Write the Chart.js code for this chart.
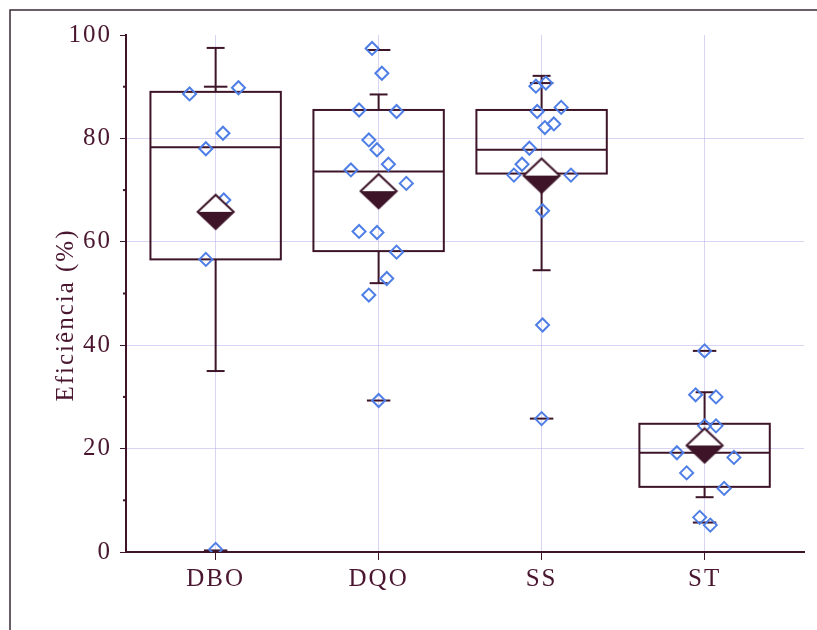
<!DOCTYPE html>
<html>
<head>
<meta charset="utf-8">
<script src="https://cdn.jsdelivr.net/npm/chart.js@4.4.1/dist/chart.umd.min.js"></script>
<style>
  html, body { margin: 0; padding: 0; background: #fff; }
  #wrap { width: 817px; height: 630px; }
</style>
</head>
<body>
<div id="wrap"><canvas id="boxChart" width="817" height="630"></canvas></div>
<script>
// categorias e estatisticas
var categories = ['DBO', 'DQO', 'SS', 'ST'];
var q1 = [56.6, 58.2, 73.2, 12.6];
var median = [78.3, 73.6, 77.8, 19.2];
var q3 = [89.0, 85.5, 85.5, 24.8];
var whiskerLow = [35.0, 52.0, 54.5, 10.6];
var whiskerHigh = [97.5, 88.5, 92.1, 30.9];
var extremeLow = [0.3, 29.3, 25.8, 5.7];
var extremeHigh = [90.0, 97.1, 90.7, 38.9];
var means = [65.8, 69.8, 72.8, 20.6];

// pontos observados (valor e deslocamento horizontal)
var dboValues = [88.6, 89.8, 81.0, 78.0, 68.1, 56.6, 0.5];
var dboJitter = [-0.16, 0.14, 0.045, -0.06, 0.05, -0.06, 0];
var dqoValues = [97.4, 92.6, 85.5, 85.2, 79.7, 77.8, 75.0, 73.9, 71.3, 62.0, 61.8, 58.0, 52.9, 49.7, 29.3];
var dqoJitter = [-0.04, 0.02, -0.12, 0.11, -0.06, -0.01, 0.06, -0.17, 0.17, -0.12, -0.01, 0.11, 0.05, -0.06, 0];
var ssValues = [90.1, 90.7, 85.2, 86.0, 82.1, 82.8, 78.1, 75.0, 72.9, 72.9, 66.0, 43.9, 25.8];
var ssJitter = [-0.035, 0.026, -0.027, 0.12, 0.02, 0.075, -0.075, -0.12, -0.17, 0.18, 0.006, 0.006, 0];
var stValues = [38.9, 30.4, 30.0, 24.4, 24.4, 19.2, 18.3, 15.3, 12.3, 6.7, 5.2];
var stJitter = [0, -0.055, 0.07, 0, 0.07, -0.17, 0.18, -0.11, 0.12, -0.03, 0.035];

var yTicks = [0, 20, 40, 60, 80, 100];

var darkColor = '#3d1428';
var textColor = '#4a1630';
var blueColor = '#4f7fe6';
var gridColor = 'rgba(185, 175, 235, 0.55)';
var serif = '"Liberation Serif", "DejaVu Serif", serif';

var allValues = [dboValues, dqoValues, ssValues, stValues];
var allJitter = [dboJitter, dqoJitter, ssJitter, stJitter];

var pointData = [];
allValues.forEach(function(vals, i) {
  vals.forEach(function(v, j) {
    pointData.push({ x: i + 1 + allJitter[i][j], y: v });
  });
});
var meanData = means.map(function(m, i) { return { x: i + 1, y: m }; });

// marcador da media: losango metade branco, metade escuro
function makeMeanMarker() {
  var c = document.createElement('canvas');
  c.width = 40; c.height = 38;
  var g = c.getContext('2d');
  var cx = 20, cy = 19, hw = 18, hh = 17;
  g.beginPath();
  g.moveTo(cx - hw, cy); g.lineTo(cx, cy - hh); g.lineTo(cx + hw, cy); g.closePath();
  g.fillStyle = '#fff'; g.fill();
  g.beginPath();
  g.moveTo(cx - hw, cy); g.lineTo(cx + hw, cy); g.lineTo(cx, cy + hh); g.closePath();
  g.fillStyle = darkColor; g.fill();
  g.beginPath();
  g.moveTo(cx - hw, cy); g.lineTo(cx, cy - hh); g.lineTo(cx + hw, cy); g.lineTo(cx, cy + hh); g.closePath();
  g.lineWidth = 2; g.strokeStyle = darkColor; g.lineJoin = 'miter'; g.stroke();
  return c;
}

var boxPlugin = {
  id: 'boxPlugin',
  beforeDraw: function(chart) {
    var ctx = chart.ctx;
    ctx.save();
    ctx.fillStyle = '#fff';
    ctx.fillRect(0, 0, chart.width, chart.height);
    ctx.strokeStyle = '#3a2a35';
    ctx.lineWidth = 1.5;
    ctx.beginPath();
    ctx.moveTo(10, chart.height); ctx.lineTo(10, 10); ctx.lineTo(chart.width, 10);
    ctx.stroke();
    ctx.restore();
    ctx.letterSpacing = '2px'; // texto espacado como no original
  },
  beforeDatasetsDraw: function(chart) {
    var ctx = chart.ctx;
    var xs = chart.scales.x, ys = chart.scales.y;
    ctx.save();
    ctx.strokeStyle = darkColor;
    ctx.lineWidth = 2;
    // marcas menores do eixo y
    for (var t = 10; t < 100; t += 20) {
      var ty = ys.getPixelForValue(t);
      ctx.beginPath();
      ctx.moveTo(xs.left - 3, ty); ctx.lineTo(xs.left, ty);
      ctx.stroke();
    }
    function hline(v, c, half) {
      var y = ys.getPixelForValue(v);
      ctx.beginPath();
      ctx.moveTo(xs.getPixelForValue(c - half), y);
      ctx.lineTo(xs.getPixelForValue(c + half), y);
      ctx.stroke();
    }
    for (var i = 0; i < categories.length; i++) {
      var c = i + 1;
      var xl = xs.getPixelForValue(c - 0.4), xr = xs.getPixelForValue(c + 0.4);
      var xc = xs.getPixelForValue(c);
      var y1 = ys.getPixelForValue(q1[i]), y3 = ys.getPixelForValue(q3[i]);
      ctx.strokeRect(xl, y3, xr - xl, y1 - y3);
      hline(median[i], c, 0.4);
      ctx.beginPath();
      ctx.moveTo(xc, y3); ctx.lineTo(xc, ys.getPixelForValue(whiskerHigh[i]));
      ctx.moveTo(xc, y1); ctx.lineTo(xc, ys.getPixelForValue(whiskerLow[i]));
      ctx.stroke();
      hline(whiskerHigh[i], c, 0.055);
      hline(whiskerLow[i], c, 0.055);
      hline(extremeHigh[i], c, 0.072);
      hline(extremeLow[i], c, 0.072);
    }
    ctx.restore();
  },
  afterDraw: function(chart) {
    var ctx = chart.ctx;
    ctx.save();
    ctx.translate(66, 315);
    ctx.rotate(-Math.PI / 2);
    ctx.font = '25px ' + serif;
    ctx.letterSpacing = '2px';
    ctx.fillStyle = textColor;
    ctx.textAlign = 'center';
    ctx.textBaseline = 'middle';
    ctx.fillText('Eficiência (%)', 0, 0);
    ctx.restore();
  }
};

var tickFont = { family: serif, size: 25 };

var boxChart = new Chart(document.getElementById('boxChart').getContext('2d'), {
  type: 'scatter',
  data: {
    datasets: [{
      label: 'media',
      data: meanData,
      pointStyle: makeMeanMarker(),
      order: 0
    }, {
      label: 'observacoes',
      data: pointData,
      pointStyle: 'rectRot',
      pointRadius: 6.5,
      pointBorderWidth: 2,
      borderColor: blueColor,
      backgroundColor: 'rgba(0,0,0,0)',
      order: 1
    }]
  },
  options: {
    responsive: false,
    animation: false,
    layout: { padding: { top: 35, right: 13, left: 0, bottom: 0 } },
    plugins: { legend: { display: false }, tooltip: { enabled: false } },
    scales: {
      x: {
        type: 'linear',
        min: 0.45,
        max: 4.61,
        afterBuildTicks: function(scale) {
          scale.ticks = categories.map(function(c, i) { return { value: i + 1 }; });
        },
        afterFit: function(scale) { scale.height = 78; },
        ticks: {
          color: textColor,
          font: tickFont,
          padding: 4,
          callback: function(v) { return categories[v - 1]; }
        },
        grid: { color: gridColor, lineWidth: 1, tickColor: darkColor, tickLength: 8 },
        border: { color: darkColor, width: 2 }
      },
      y: {
        min: 0,
        max: 100,
        afterBuildTicks: function(scale) {
          scale.ticks = yTicks.map(function(v) { return { value: v }; });
        },
        afterFit: function(scale) { scale.width = 126; },
        ticks: { color: textColor, font: tickFont, padding: 8 },
        grid: {
          color: function(ctx) {
            var v = ctx.tick ? ctx.tick.value : 0;
            return (v === 0 || v === 100) ? 'rgba(0,0,0,0)' : gridColor;
          },
          tickColor: darkColor,
          tickLength: 6
        },
        border: { color: darkColor, width: 2 }
      }
    }
  },
  plugins: [boxPlugin]
});
</script>
</body>
</html>
